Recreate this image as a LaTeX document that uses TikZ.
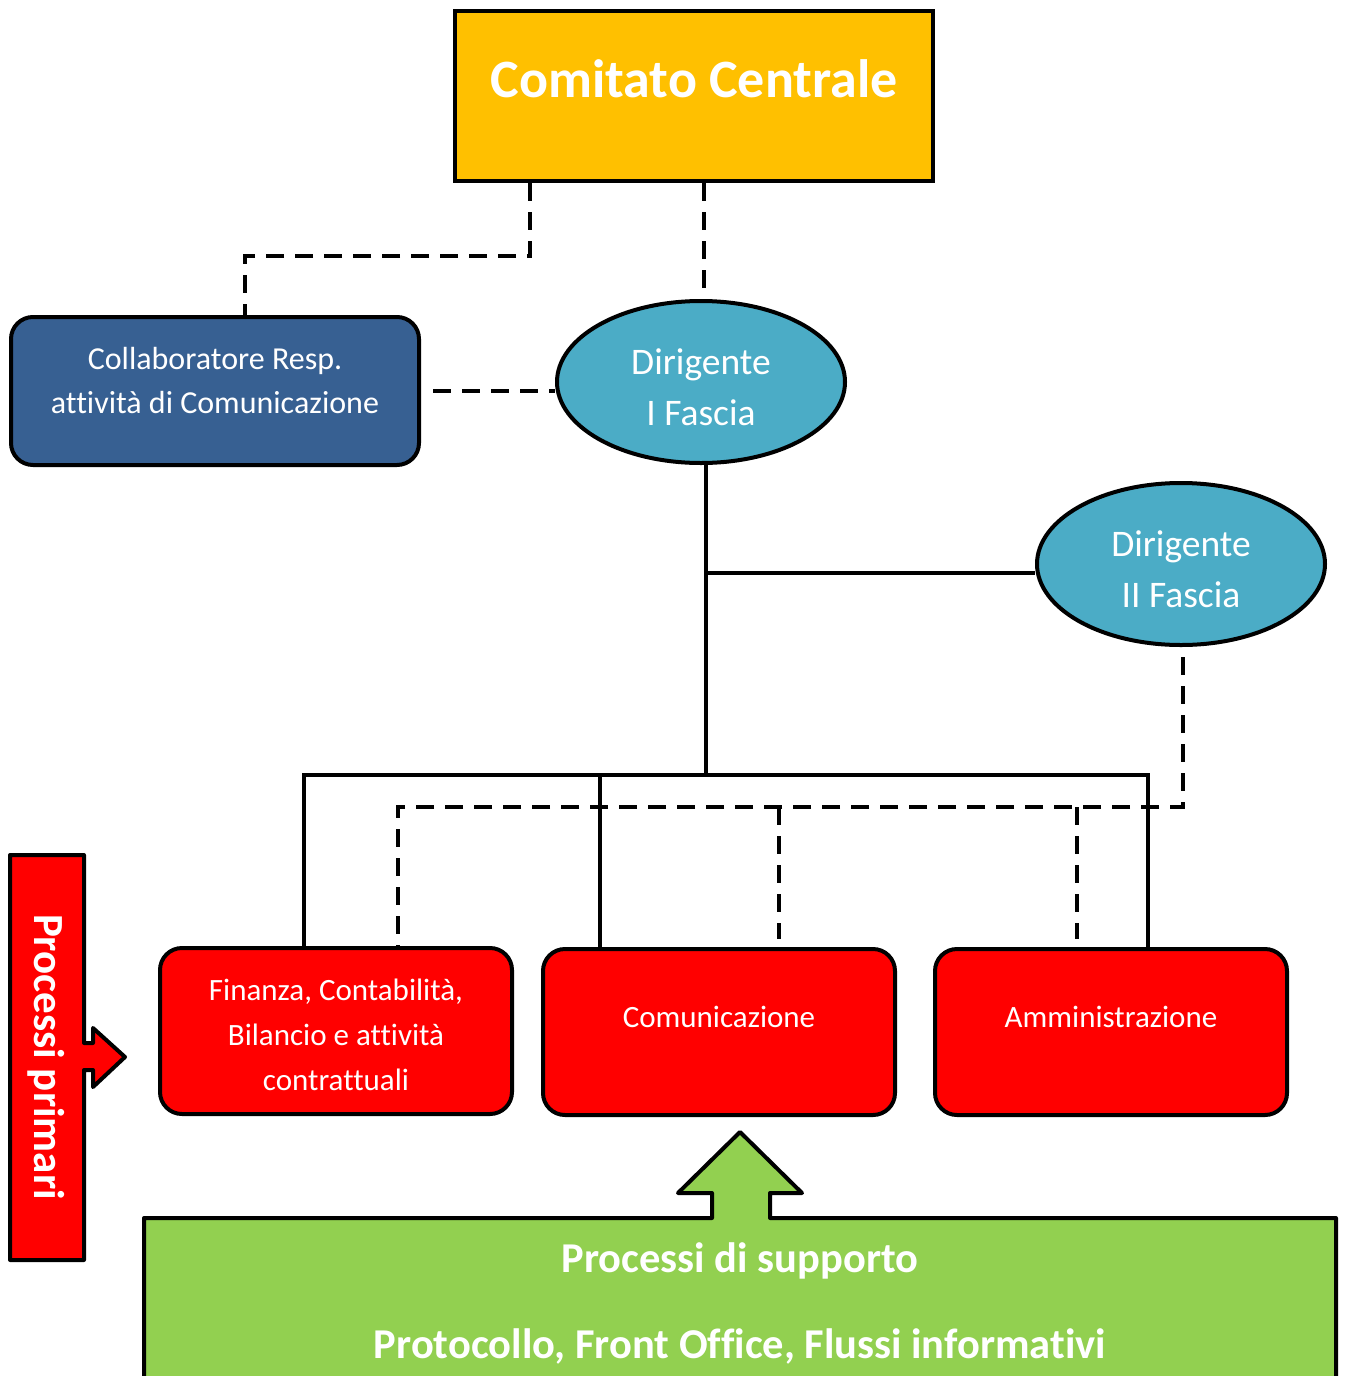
\documentclass[tikz,border=0pt]{standalone}
\usepackage{fontspec}
\setmainfont{Carlito}[Ligatures=NoCommon]
\usetikzlibrary{shapes.geometric}
\definecolor{oro}{HTML}{FFC000}
\definecolor{blu}{HTML}{376092}
\definecolor{azzurro}{HTML}{4BACC6}
\definecolor{rosso}{HTML}{FF0000}
\definecolor{verde}{HTML}{92D050}
\newcommand{\su}[2]{\raisebox{#1}[0pt][0pt]{#2}}
\newcommand{\righe}[2]{\su{#1}{\begin{tabular}{@{}c@{}}#2\end{tabular}}}

\begin{document}
\begin{tikzpicture}[x=1pt,y=-1pt,
	box/.style={draw,line width=4pt,rounded corners=22pt,text=white,minimum width=352pt,minimum height=166pt,font=\fontsize{31}{45}\selectfont},
	dir/.style={ellipse,draw,line width=4pt,fill=azzurro,text=white,minimum width=288pt,minimum height=162pt,font=\fontsize{37.5}{51}\selectfont},
	tratt/.style={line width=4pt,dash pattern=on 18pt off 11pt},
	linea/.style={line width=3.5pt}]
	\useasboundingbox (0,0) rectangle (1346,1376);

	% vertice
	\node[draw,line width=4pt,fill=oro,text=white,minimum width=478pt,minimum height=170pt,font=\fontsize{54}{60}\selectfont\bfseries] (cc) at (694,96) {\su{-1pt}{Comitato Centrale}};
	\node[box,fill=blu,minimum width=408pt,minimum height=148pt,font=\fontsize{32}{44}\selectfont] (coll) at (215,391) {\righe{2pt}{Collaboratore Resp.\\attività di Comunicazione}};
	\node[dir] (d1) at (701,382) {\righe{-14pt}{Dirigente\\I Fascia}};
	\node[dir] (d2) at (1181,564) {\righe{-14pt}{Dirigente\\II Fascia}};

	% uffici
	\node[box,fill=rosso] (fin) at (336,1031) {\righe{-12pt}{Finanza, Contabilità,\\Bilancio e attività\\contrattuali}};
	\node[box,fill=rosso] (com) at (719,1032) {\su{5pt}{Comunicazione}};
	\node[box,fill=rosso] (amm) at (1111,1032) {\su{5pt}{Amministrazione}};

	% frecce di processo
	\draw[line width=4pt,line join=round,fill=rosso] (10,855) -- (84,855) -- (84,1043) -- (93,1043) -- (93,1028) -- (125,1057) -- (93,1087) -- (93,1070) -- (84,1070) -- (84,1260) -- (10,1260) -- cycle;
	\node[rotate=-90,text=white,font=\fontsize{43}{50}\selectfont\bfseries] (prim) at (46,1057) {Processi primari};
	\draw[line width=4pt,line join=round,fill=verde] (144,1395) -- (144,1218) -- (712,1218) -- (712,1193) -- (678,1193) -- (740,1132) -- (802,1193) -- (770,1193) -- (770,1218) -- (1336,1218) -- (1336,1395) -- cycle;
	\node[text=white,align=center,font=\fontsize{42.5}{86}\selectfont\bfseries] (sup) at (740,1303) {Processi di supporto\\Protocollo, Front Office, Flussi informativi};

	% collegamenti
	\coordinate (bus) at (706,775);
	\coordinate (tr) at (1183,807);
	\draw[tratt] ([xshift=-164pt]cc.south) -- ++(0,73) -| ([xshift=30pt]coll.north);
	\draw[tratt] (cc.south -| 704,0) -- (d1.north -| 704,0);
	\draw[tratt] ([xshift=12pt]coll.east) -- (d1.west |- coll.east);
	\draw[linea] (d1.south -| bus) -- (bus);
	\draw[linea] (bus |- 0,573) -- (d2.west |- 0,573);
	\draw[linea] ([xshift=-32pt]fin.north) |- (bus) -| ([xshift=37pt]amm.north);
	\draw[linea] ([xshift=-119pt]com.north) -- ([xshift=-119pt]com.north |- bus);
	\draw[tratt] ([yshift=-10pt]d2.south -| tr) |- ([xshift=62pt]fin.north |- tr) -- ([xshift=62pt]fin.north);
	\foreach \n/\dx in {com/60,amm/-34} {
		\draw[tratt] ([xshift=\dx pt]\n.north |- tr) -- ([xshift=\dx pt,yshift=8pt]\n.north);
	}
\end{tikzpicture}
\end{document}
